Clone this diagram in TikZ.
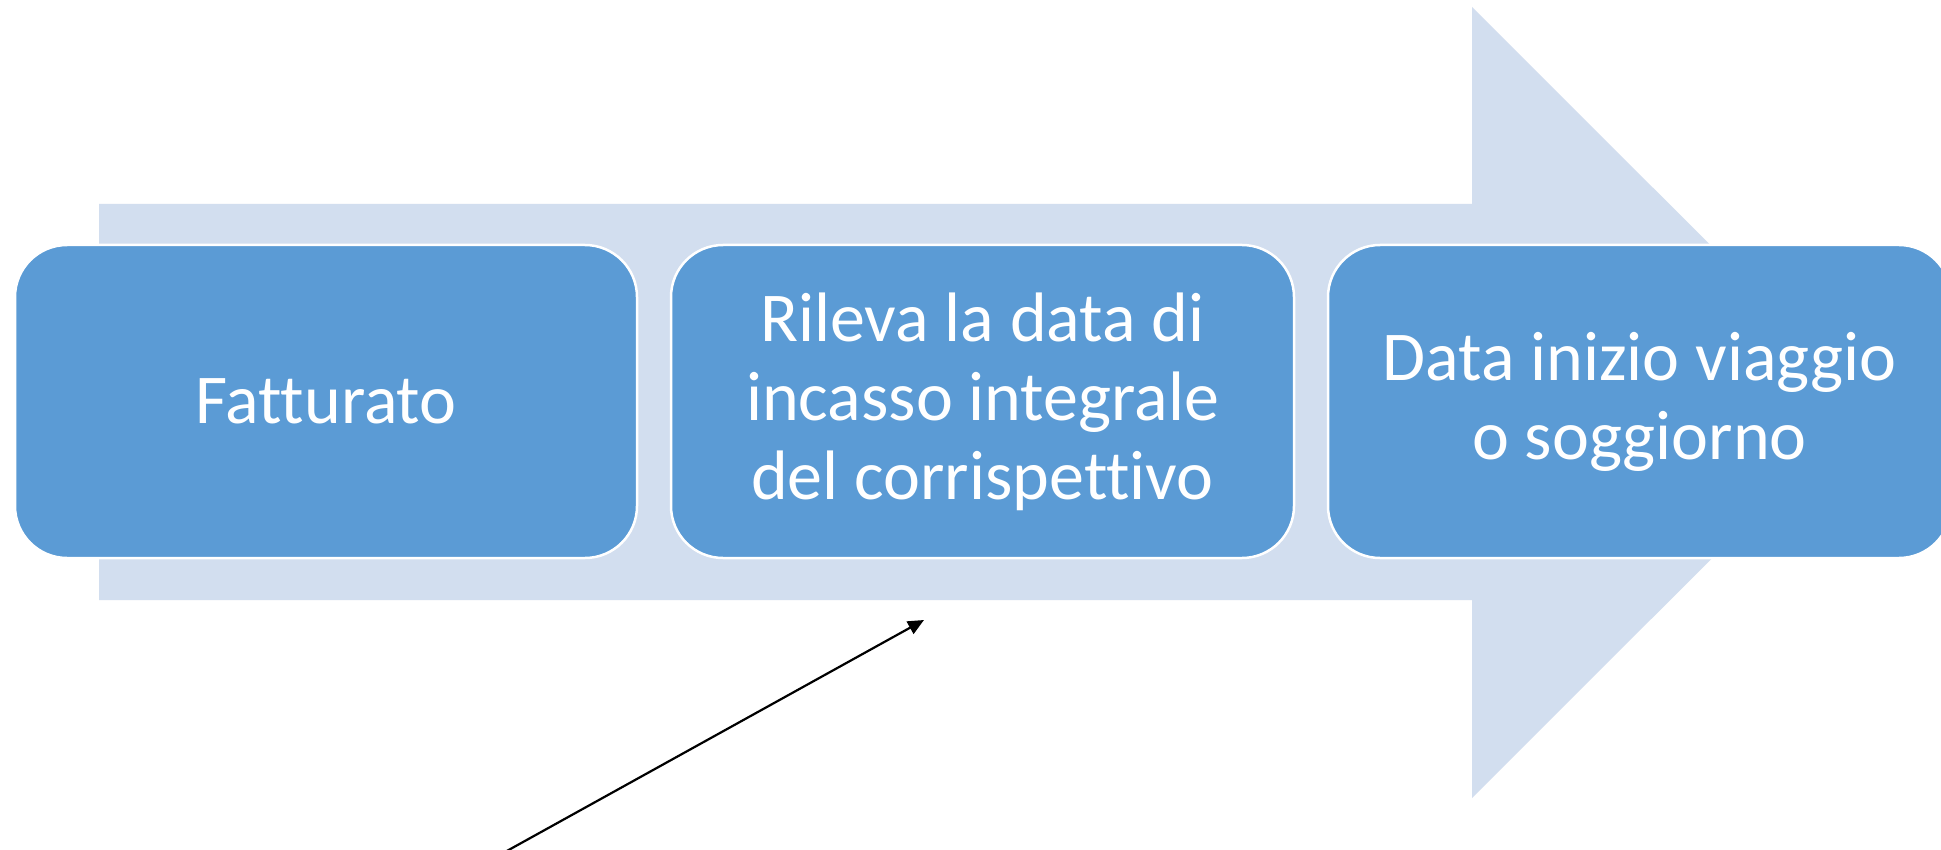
\documentclass[tikz,border=0pt]{standalone}
\usepackage{fontspec}
\setmainfont{Carlito}[Ligatures=CommonOff]
\usetikzlibrary{arrows.meta}
\definecolor{boxblue}{HTML}{5B9BD5}
\definecolor{arrowlight}{HTML}{D2DEEF}
\tikzset{
  stagebox/.style={rectangle, rounded corners=52pt, fill=boxblue, draw=white,
    line width=2.5pt, minimum height=313pt, inner sep=0pt, align=center,
    text=white, font=\fontsize{70pt}{79pt}\selectfont},
  pointer/.style={draw=black, line width=2.2pt, -{Triangle[length=16pt,width=14pt]}}
}
\begin{document}
\begin{tikzpicture}[x=1pt,y=-1pt]
\useasboundingbox (0,0) rectangle (1941,850);
\fill[white] (0,0) rectangle (1941,850);
\clip (0,0) rectangle (1941,850);
% big background arrow
\fill[arrowlight] (99,204) -- (1472,204) -- (1472,7) -- (1868,402.5)
  -- (1472,798) -- (1472,600) -- (99,600) -- cycle;
% stage boxes
\node[stagebox, minimum width=622pt] (b1) at (326,401.5) {Fatturato};
\node[stagebox, minimum width=623pt] (b2) at (982.5,401.5)
  {Rileva la data di\\incasso integrale\\del corrispettivo};
\node[stagebox, minimum width=623pt] (b3) at (1639.5,401.5)
  {Data inizio viaggio\\o soggiorno};
% pointer arrow
\coordinate (pstart) at (505,852);
\coordinate (pend) at (924,620);
\draw[pointer] (pstart) -- (pend);
\end{tikzpicture}
\end{document}
